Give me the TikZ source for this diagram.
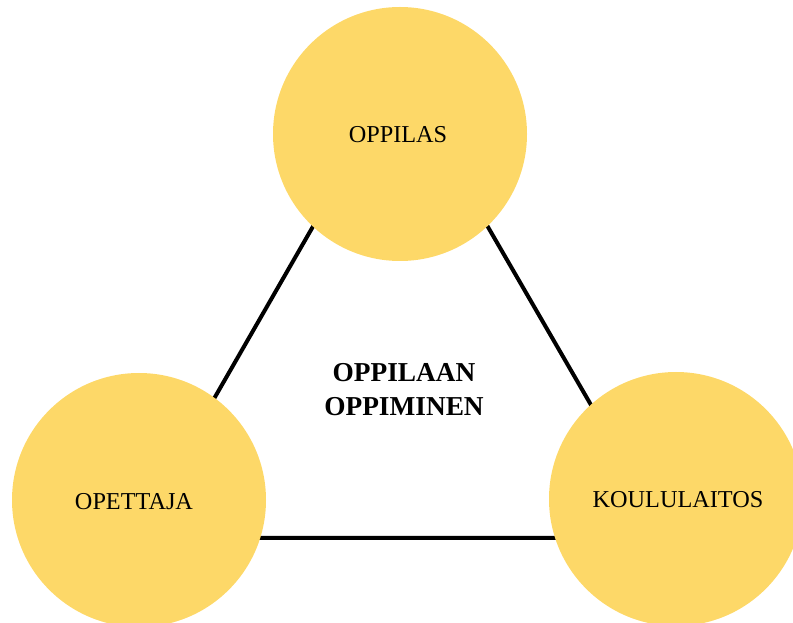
\documentclass[tikz,border=0pt]{standalone}
\usepackage{fontspec}
\setmainfont{Liberation Serif}
\definecolor{circ}{HTML}{FDD868}
\begin{document}
\begin{tikzpicture}[x=0.75pt,y=-0.75pt,
  edge/.style={line width=3pt,black},
  bubble/.style={circle,fill=circ,minimum size=190.5pt,inner sep=0pt},
  bubbletext/.style={font=\fontsize{18.2}{21}\selectfont,inner sep=0pt}]
\useasboundingbox (0,0) rectangle (793,623);
\clip (0,0) rectangle (793,623);
\coordinate (A) at (400,75);
\coordinate (B) at (134,538);
\coordinate (C) at (668,538);
\draw[edge] (A) -- (B) -- (C) -- cycle;
\node[bubble] (oppilas) at (400,134) {};
\node[bubble] (opettaja) at (139,500) {};
\node[bubble] (koulu) at (676,499) {};
\node[bubbletext] (t1) at (398,135) {OPPILAS};
\node[bubbletext] (t2) at (134,502) {OPETTAJA};
\node[bubbletext] (t3) at (678,500) {KOULULAITOS};
\node[align=center,font=\fontsize{20.5}{25.5}\selectfont\bfseries] (center) at (404,390) {OPPILAAN\\OPPIMINEN};
\end{tikzpicture}
\end{document}
